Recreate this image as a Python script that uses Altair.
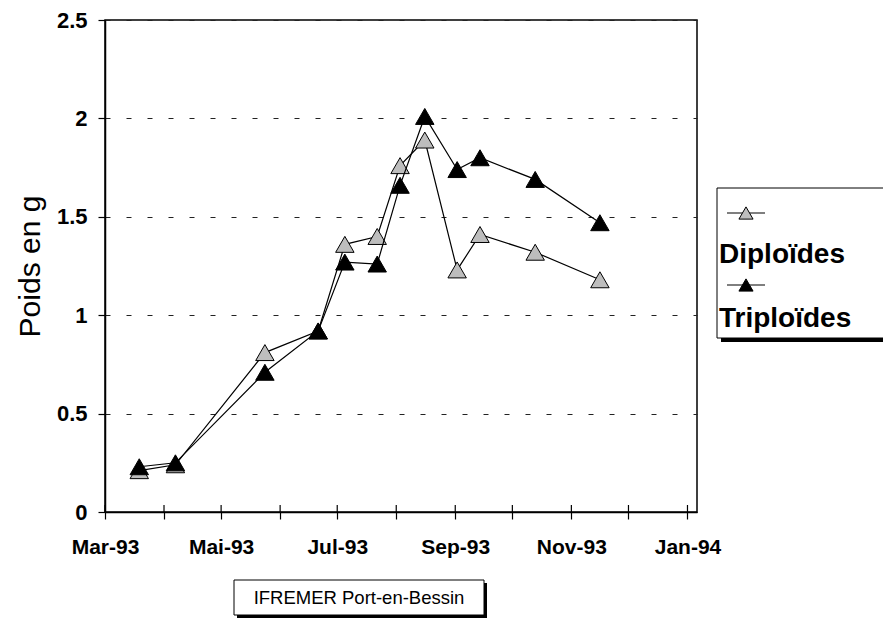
import altair as alt
import pandas as pd

# ---- data ----
dates = ["1993-03-19", "1993-04-07", "1993-05-24", "1993-06-21", "1993-07-05",
         "1993-07-22", "1993-08-03", "1993-08-16", "1993-09-02", "1993-09-14",
         "1993-10-13", "1993-11-16"]
diploides = [0.21, 0.24, 0.81, 0.92, 1.36, 1.40, 1.76, 1.89, 1.23, 1.41, 1.32, 1.18]
triploides = [0.23, 0.25, 0.71, 0.92, 1.27, 1.26, 1.66, 2.01, 1.74, 1.80, 1.69, 1.47]
series_names = ["Diploïdes", "Triploïdes"]
month_ticks = [(1993, 3), (1993, 4), (1993, 5), (1993, 6), (1993, 7), (1993, 8),
               (1993, 9), (1993, 10), (1993, 11), (1993, 12), (1994, 1)]
month_labels = ["Mar-93", "", "Mai-93", "", "Jul-93", "", "Sep-93", "", "Nov-93", "", "Jan-94"]
y_ticks = [0, 0.5, 1, 1.5, 2, 2.5]
y_title = "Poids en g"
source_note = "IFREMER Port-en-Bessin"

FONT = "Liberation Sans"
W, H = 592, 492
FILL_D = "#bdbdbd"

df_d = pd.DataFrame({"date": dates, "value": diploides})
df_t = pd.DataFrame({"date": dates, "value": triploides})
df_ticks = pd.DataFrame({"date": [f"{y}-{m:02d}-01" for y, m in month_ticks]})
one = pd.DataFrame({"k": [0]})

label_expr = ""
for (y, m), lab in zip(month_ticks, month_labels):
    label_expr += f"utcFormat(datum.value, '%Y-%m') == '{y}-{m:02d}' ? '{lab}' : "
label_expr += "''"

x_enc = alt.X(
    "date:T",
    scale=alt.Scale(type="utc", domain=[alt.DateTime(year=1993, month=3, date=1, utc=True),
                                        alt.DateTime(year=1994, month=1, date=6, utc=True)]),
    axis=alt.Axis(values=[alt.DateTime(year=y, month=m, date=1, utc=True) for y, m in month_ticks],
                  labelExpr=label_expr, title=None, grid=False, tickSize=7, tickColor="black",
                  tickWidth=1.2, domainColor="black", domainWidth=1.5, labelFont=FONT,
                  labelFontSize=21, labelFontWeight="bold", labelColor="black",
                  labelPadding=17, labelOverlap=False, labelFlush=False),
)
y_enc = alt.Y(
    "value:Q",
    scale=alt.Scale(domain=[0, 2.5], nice=False, zero=True),
    axis=alt.Axis(values=y_ticks, format="~g", title=y_title, titleFont=FONT, titleFontSize=30,
                  titleFontWeight="normal", titleColor="black", titleX=-66, titleY=246,
                  titleAngle=-90, titleAlign="center", titleBaseline="alphabetic",
                  grid=True, gridDash=[5, 16], gridColor="#222222", gridWidth=1,
                  tickSize=7, tickColor="black", tickWidth=1.2, domainColor="black",
                  domainWidth=1.5, labelFont=FONT, labelFontSize=22, labelFontWeight="bold",
                  labelColor="black", labelPadding=11),
)

inner_ticks = alt.Chart(df_ticks).mark_rule(color="black", strokeWidth=1.2).encode(
    x=x_enc, y=alt.value(H - 7), y2=alt.value(H))

line_d = alt.Chart(df_d).mark_line(color="black", strokeWidth=1.2).encode(x=x_enc, y=y_enc)
pts_d = alt.Chart(df_d).mark_point(shape="triangle-up", filled=True, fill=FILL_D, stroke="black",
                                   strokeWidth=1, size=340, opacity=1).encode(x=x_enc, y=y_enc)
line_t = alt.Chart(df_t).mark_line(color="black", strokeWidth=1.2).encode(x=x_enc, y=y_enc)
pts_t = alt.Chart(df_t).mark_point(shape="triangle-up", filled=True, fill="black", stroke="black",
                                   strokeWidth=1, size=340, opacity=1).encode(x=x_enc, y=y_enc)

# ---- legend box (outside the plot, cut by right edge) ----
leg_shadow = alt.Chart(one).mark_rect(fill="black").encode(
    x=alt.value(616), x2=alt.value(805), y=alt.value(171), y2=alt.value(322))
leg_box = alt.Chart(one).mark_rect(fill="white", stroke="black", strokeWidth=1).encode(
    x=alt.value(612), x2=alt.value(800), y=alt.value(168), y2=alt.value(318))
leg_layers = [leg_shadow, leg_box]
for i, (name, fill) in enumerate(zip(series_names, [FILL_D, "black"])):
    ly = 193 + i * 72
    leg_layers.append(alt.Chart(one).mark_rule(color="black", strokeWidth=1.2).encode(
        x=alt.value(622), x2=alt.value(660), y=alt.value(ly)))
    leg_layers.append(alt.Chart(one).mark_point(shape="triangle-up", filled=True, fill=fill,
                                                stroke="black", strokeWidth=1, size=200,
                                                opacity=1).encode(
        x=alt.value(641), y=alt.value(ly)))
    leg_layers.append(alt.Chart(one).mark_text(align="left", baseline="alphabetic", font=FONT,
                                               fontSize=28, fontWeight="bold",
                                               color="black").encode(
        x=alt.value(614), y=alt.value(243 + i * 64), text=alt.value(name)))

# ---- source box ----
src_shadow = alt.Chart(one).mark_rect(fill="black").encode(
    x=alt.value(132), x2=alt.value(382), y=alt.value(563), y2=alt.value(598))
src_box = alt.Chart(one).mark_rect(fill="white", stroke="black", strokeWidth=1).encode(
    x=alt.value(129), x2=alt.value(379), y=alt.value(560), y2=alt.value(595))
src_text = alt.Chart(one).mark_text(align="center", baseline="middle", font=FONT, fontSize=18.5,
                                    color="black").encode(
    x=alt.value(254), y=alt.value(578), text=alt.value(source_note))

chart = alt.layer(
    line_d, inner_ticks, pts_d, line_t, pts_t, *leg_layers, src_shadow, src_box, src_text
).properties(
    width=W, height=H,
    autosize=alt.AutoSizeParams(type="none"),
    padding={"left": 105, "top": 20, "right": 186, "bottom": 114},
    background="white",
).configure_view(stroke="black", strokeWidth=1.5)

chart.save("out.html", embed_options={"renderer": "svg", "actions": False})
